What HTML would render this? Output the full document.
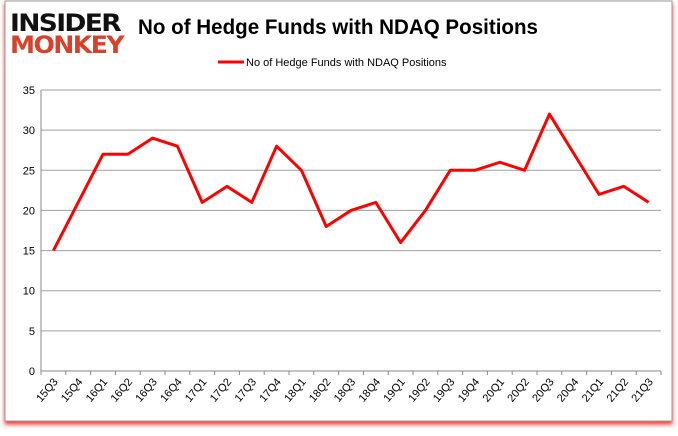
<!DOCTYPE html>
<html><head><meta charset="utf-8"><style>
body{margin:0;background:#fff;width:678px;height:431px;overflow:hidden;font-family:"Liberation Sans",sans-serif}
</style></head><body>
<svg width="678" height="431">
<defs><filter id="sh" x="-5%" y="-5%" width="110%" height="115%"><feDropShadow dx="0" dy="3" stdDeviation="2" flood-color="#ff0000" flood-opacity="0.8"/></filter></defs>
<rect x="5" y="1" width="667" height="420" fill="#fff" stroke="#999" filter="url(#sh)"/>
<g>
<text x="10" y="31" font-size="24" font-weight="bold" fill="#111" font-family="'DejaVu Sans',sans-serif" letter-spacing="-1.5" textLength="110" lengthAdjust="spacingAndGlyphs">INSIDER</text>
<text x="10" y="53" font-size="24" font-weight="bold" fill="#d9412b" font-family="'DejaVu Sans',sans-serif" letter-spacing="-1.5" textLength="113" lengthAdjust="spacingAndGlyphs">MONKEY</text>
</g>
<text x="338" y="34" text-anchor="middle" font-size="21" font-weight="bold" fill="#000" textLength="400" lengthAdjust="spacingAndGlyphs">No of Hedge Funds with NDAQ Positions</text>
<line x1="218" y1="62" x2="244" y2="62" stroke="#ff0000" stroke-width="3"/>
<text x="246" y="66" font-size="11" fill="#000">No of Hedge Funds with NDAQ Positions</text>
<g id="grid"></g><g id="axes"></g><g id="series"></g>
</svg>
<script>
const categories=["15Q3","15Q4","16Q1","16Q2","16Q3","16Q4","17Q1","17Q2","17Q3","17Q4","18Q1","18Q2","18Q3","18Q4","19Q1","19Q2","19Q3","19Q4","20Q1","20Q2","20Q3","20Q4","21Q1","21Q2","21Q3"];
const values=[15,21,27,27,29,28,21,23,21,28,25,18,20,21,16,20,25,25,26,25,32,27,22,23,21];
const yTicks=[0,5,10,15,20,25,30,35];
const NS="http://www.w3.org/2000/svg";
const L=41,R=661,T=90,B=371,YMAX=35;
const bw=(R-L)/categories.length;
const x=i=>L+bw*(i+0.5);
const y=v=>B-(v/YMAX)*(B-T);
function mk(t,a,p){const e=document.createElementNS(NS,t);for(const k in a)e.setAttribute(k,a[k]);p.appendChild(e);return e;}
const grid=document.getElementById('grid'),axes=document.getElementById('axes'),ser=document.getElementById('series');
yTicks.forEach(v=>{
 if(v>0){const g=mk('line',{x1:L,x2:R,y1:y(v),y2:y(v),stroke:'#a0a0a0','stroke-width':1},grid);
 
 }
 const t=mk('text',{x:L-6,y:y(v)+4,'text-anchor':'end','font-size':11,fill:'#000'},axes);t.textContent=v;
 
 
});
const ya=mk('line',{x1:L,x2:L,y1:T,y2:B,stroke:'#888'},axes);


const xa=mk('line',{x1:L,x2:R,y1:B,y2:B,stroke:'#888'},axes);


for(let i=0;i<=categories.length;i++){const tk=mk('line',{x1:L+bw*i,x2:L+bw*i,y1:B,y2:B+4,stroke:'#888'},axes);
 
 }
categories.forEach((c,i)=>{
 const t=mk('text',{x:x(i)+5,y:B+11,'text-anchor':'end','font-size':11,fill:'#000',transform:`rotate(-50 ${x(i)+5} ${B+11})`},axes);t.textContent=c;
 
 
});
const pl=mk('polyline',{points:values.map((v,i)=>x(i)+','+y(v)).join(' '),fill:'none',stroke:'#ff0000','stroke-width':3,'stroke-linejoin':'round'},ser);


</script>
</body></html>
